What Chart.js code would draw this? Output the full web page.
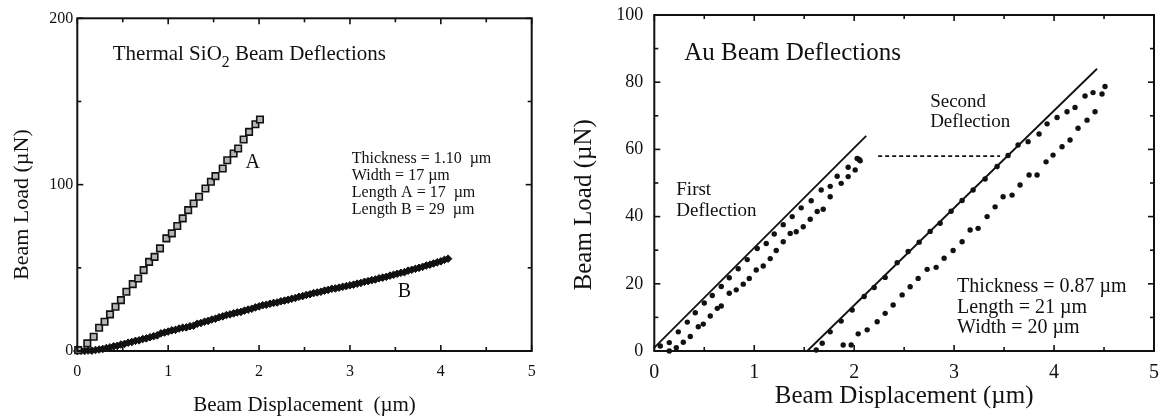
<!DOCTYPE html>
<html><head><meta charset="utf-8">
<script src="https://cdn.jsdelivr.net/npm/chart.js@4.4.1/dist/chart.umd.min.js"></script>
<style>
html,body{margin:0;padding:0;background:#fff;width:1161px;height:419px;overflow:hidden}
canvas{position:absolute;top:0}
#c1{left:0}
#c2{left:560px}
</style></head><body>
<canvas id="c1" width="560" height="419"></canvas>
<canvas id="c2" width="601" height="419"></canvas>
<script>
// ---------- tick labels ----------
const sioXTickLabels = ['0','1','2','3','4','5'];
const sioYTickLabels = ['0','100','200'];
const auXTickLabels = ['0','1','2','3','4','5'];
const auYTickLabels = ['0','20','40','60','80','100'];

// ---------- Thermal SiO2, beam A (open squares) ----------
const beamAX = [0.01,0.11,0.18,0.24,0.30,0.36,0.42,0.48,0.54,0.61,0.67,0.73,0.79,0.85,0.91,0.98,1.04,1.10,1.16,1.22,1.28,1.34,1.41,1.47,1.52,1.60,1.65,1.72,1.77,1.83,1.89,1.96,2.01];
const beamAY = [0.5,4.6,8.6,14.0,17.6,22.0,26.6,30.6,35.6,40.2,43.6,48.6,53.6,56.6,61.7,67.7,70.7,75.1,79.7,84.7,88.7,92.7,97.7,101.7,105.1,109.7,114.7,118.7,121.7,127.1,131.7,136.3,139.2];

// ---------- Thermal SiO2, beam B (filled diamonds) ----------
const beamBX = [0.00,0.04,0.08,0.12,0.16,0.20,0.24,0.28,0.32,0.36,0.40,0.44,0.48,0.52,0.56,0.60,0.64,0.68,0.72,0.76,0.80,0.84,0.88,0.92,0.96,1.00,1.04,1.08,1.12,1.16,1.20,1.24,1.28,1.32,1.36,1.40,1.44,1.48,1.52,1.56,1.60,1.64,1.68,1.72,1.76,1.80,1.84,1.88,1.92,1.96,2.00,2.04,2.08,2.12,2.16,2.20,2.24,2.28,2.32,2.36,2.40,2.44,2.48,2.52,2.56,2.60,2.64,2.68,2.72,2.76,2.80,2.84,2.88,2.92,2.96,3.00,3.04,3.08,3.12,3.16,3.20,3.24,3.28,3.32,3.36,3.40,3.44,3.48,3.52,3.56,3.60,3.64,3.68,3.72,3.76,3.80,3.84,3.88,3.92,3.96,4.00,4.04,4.08];
const beamBY = [0.0,0.2,0.0,0.3,0.2,0.6,0.9,1.2,1.8,2.2,2.8,3.1,3.9,4.3,5.0,5.4,6.1,6.4,7.2,7.6,8.3,8.9,9.4,10.6,11.1,11.7,12.4,12.7,13.5,14.0,14.2,14.9,15.2,16.4,16.8,17.6,18.1,18.9,19.4,20.3,20.8,21.6,22.0,22.6,23.2,23.5,24.3,24.9,25.4,26.2,26.8,27.5,27.8,28.4,28.9,29.2,29.9,30.3,30.8,31.4,31.9,32.6,33.0,33.7,34.1,34.8,35.2,35.6,36.3,36.7,37.4,37.6,38.1,38.6,39.0,39.5,39.9,40.5,40.9,41.6,42.0,42.6,43.0,43.7,44.1,44.6,45.3,45.8,46.4,47.0,47.4,48.3,48.8,49.4,50.0,50.6,51.4,51.9,52.6,53.3,53.9,54.8,55.5];

// ---------- Au, first deflection ----------
const auFirstFitX = [0, 2.12];
const auFirstFitY = [1, 64];
const auFirstUpX = [0.06,0.15,0.24,0.33,0.41,0.50,0.58,0.67,0.75,0.84,0.93,1.03,1.12,1.20,1.29,1.38,1.47,1.57,1.67,1.76,1.83,1.94,2.03,2.06];
const auFirstUpY = [1.5,2.5,5.7,8.6,11.4,14.3,16.5,19.2,21.8,24.5,27.2,30.5,32.0,34.8,37.6,40.0,42.6,44.7,47.9,49.0,52.0,54.7,57.3,56.6];
const auFirstLowX = [0.15,0.22,0.29,0.36,0.44,0.49,0.56,0.63,0.67,0.75,0.82,0.89,0.95,1.02,1.09,1.16,1.22,1.29,1.36,1.42,1.49,1.56,1.63,1.69,1.76,1.87,1.94,2.01,2.05];
const auFirstLowY = [0.0,1.0,2.6,4.3,7.2,8.0,10.4,12.7,13.4,17.2,18.2,19.9,21.6,24.1,25.3,27.5,29.9,32.5,35.0,35.5,37.0,39.2,41.5,42.2,45.9,49.9,51.9,53.9,57.0];

// ---------- Au, second deflection ----------
const auSecondFitX = [1.53, 4.43];
const auSecondFitY = [0, 84];
const auLinkX = [2.24, 3.46];
const auLinkY = [58, 58];
const auSecondUpX = [1.62,1.68,1.76,1.87,1.98,2.10,2.20,2.31,2.43,2.54,2.65,2.76,2.86,2.97,3.08,3.19,3.31,3.43,3.54,3.64,3.74,3.85,3.93,4.03,4.13,4.21,4.31,4.39,4.48,4.51];
const auSecondUpY = [0.3,2.3,5.7,8.9,12.2,16.2,18.9,21.9,26.3,29.6,32.4,35.6,38.0,41.6,44.8,47.9,51.2,54.9,58.2,61.3,62.3,64.6,67.6,69.5,71.2,72.5,75.9,76.9,76.5,78.7];
const auSecondLowX = [1.80,1.89,1.97,2.04,2.13,2.23,2.31,2.39,2.48,2.56,2.64,2.73,2.82,2.90,2.99,3.08,3.16,3.24,3.33,3.41,3.49,3.58,3.66,3.75,3.83,3.92,3.99,4.08,4.16,4.24,4.33,4.41];
const auSecondLowY = [-1.3,1.8,1.8,5.1,6.3,8.7,11.2,13.7,16.7,19.1,21.6,24.3,24.9,27.6,29.9,32.5,36.0,36.5,40.0,42.9,45.9,46.4,49.4,52.4,52.4,56.3,58.3,60.8,62.8,66.3,68.7,71.2];

// ---------- helpers ----------
const pts = (xs, ys) => xs.map((x, i) => ({x, y: ys[i]}));
const SERIF = '"Liberation Serif", "DejaVu Serif", serif';
const INK = '#111111';

const framePlugin = {
  id: 'frame',
  afterDatasetsDraw(chart, args, o) {
    const {ctx, chartArea: a, scales: {x, y}} = chart;
    ctx.save();
    ctx.strokeStyle = INK;
    ctx.lineWidth = 2;
    ctx.strokeRect(a.left, a.top, a.right - a.left, a.bottom - a.top);
    ctx.lineWidth = 1.6;
    const seg = (x1, y1, x2, y2) => { ctx.beginPath(); ctx.moveTo(x1, y1); ctx.lineTo(x2, y2); ctx.stroke(); };
    const xs = x.options.ticks.stepSize, ys = y.options.ticks.stepSize;
    for (let i = 0; x.min + i * o.xMinor <= x.max + 1e-9; i++) {
      const v = x.min + i * o.xMinor;
      const major = Math.abs(v / xs - Math.round(v / xs)) < 1e-6;
      const L = major ? o.major : o.minor;
      const p = x.getPixelForValue(v);
      seg(p, a.bottom, p, a.bottom - L);
      seg(p, a.top, p, a.top + L);
    }
    for (let i = 0; y.min + i * o.yMinor <= y.max + 1e-9; i++) {
      const v = y.min + i * o.yMinor;
      const major = Math.abs(v / ys - Math.round(v / ys)) < 1e-6;
      const L = major ? o.major : o.minor;
      const p = y.getPixelForValue(v);
      seg(a.left, p, a.left + L, p);
      seg(a.right, p, a.right - L, p);
    }
    ctx.restore();
  }
};

const notesPlugin = {
  id: 'notes',
  afterDatasetsDraw(chart, args, o) {
    const {ctx, chartArea, scales: {x, y}} = chart;
    (o.items || []).forEach(n => {
      ctx.save();
      ctx.fillStyle = INK;
      const py = y.getPixelForValue(n.y);
      if (n.rot) {
        const px = chartArea.left + n.dx;
        ctx.translate(px, py);
        ctx.rotate(-Math.PI / 2);
        ctx.font = n.size + 'px ' + SERIF;
        ctx.textAlign = 'center';
        ctx.textBaseline = 'middle';
        ctx.fillText(n.text, 0, 0);
        ctx.restore();
        return;
      }
      const px = x.getPixelForValue(n.x);
      ctx.textAlign = n.align || 'left';
      ctx.textBaseline = n.baseline || 'alphabetic';
      if (n.parts) {
        let cx = px;
        n.parts.forEach(p => {
          const size = p.sub ? n.size * 0.75 : n.size;
          ctx.font = size + 'px ' + SERIF;
          ctx.textAlign = 'left';
          ctx.fillText(p.t, cx, py + (p.sub ? n.size * 0.3 : 0));
          cx += ctx.measureText(p.t).width;
        });
      } else {
        ctx.font = n.size + 'px ' + SERIF;
        ctx.fillText(n.text, px, py);
      }
      ctx.restore();
    });
  }
};

function fixBox(w, h) {
  return (s) => {
    if (w != null) s.width = w;
    if (h != null) s.height = h;
    s.paddingLeft = 0; s.paddingRight = 0; s.paddingTop = 0; s.paddingBottom = 0;
  };
}

Chart.defaults.font.family = SERIF;
Chart.defaults.color = INK;

// ---------- left chart ----------
new Chart(document.getElementById('c1'), {
  type: 'scatter',
  data: {
    datasets: [
      {data: pts(beamAX, beamAY), pointStyle: 'rect', pointRadius: 4.6, borderColor: INK, backgroundColor: '#b5b5b5', borderWidth: 1.6, clip: false},
      {data: pts(beamBX, beamBY), pointStyle: 'rectRot', pointRadius: 3.8, borderColor: INK, backgroundColor: INK, borderWidth: 1, clip: false}
    ]
  },
  options: {
    responsive: false, animation: false, events: [],
    layout: {padding: {left: 0, right: 28.3, top: 18.3, bottom: 0}},
    plugins: {
      legend: {display: false}, tooltip: {enabled: false},
      frame: {xMinor: 0.5, yMinor: 50, major: 6, minor: 4},
      notes: {items: [
        {text: 'Beam Load (\u00b5N)', rot: true, dx: -55.3, y: 88, size: 22},
        {parts: [{t: 'Thermal SiO'}, {t: '2', sub: true}, {t: ' Beam Deflections'}], x: 0.39, y: 174.8, size: 21},
        {text: 'A', x: 1.93, y: 113, size: 20, align: 'center', baseline: 'middle'},
        {text: 'B', x: 3.60, y: 35.4, size: 20, align: 'center', baseline: 'middle'},
        {text: 'Thickness = 1.10  \u00b5m', x: 3.02, y: 112.9, size: 16},
        {text: 'Width = 17 \u00b5m', x: 3.02, y: 102.7, size: 16},
        {text: 'Length A = 17  \u00b5m', x: 3.02, y: 92.5, size: 16},
        {text: 'Length B = 29  \u00b5m', x: 3.02, y: 82.3, size: 16}
      ]}
    },
    scales: {
      x: {
        type: 'linear', min: 0, max: 5,
        grid: {display: false, drawTicks: false}, border: {display: false},
        ticks: {stepSize: 1, padding: 11, font: {size: 16}, maxRotation: 0,
                callback: (v, i) => sioXTickLabels[i]},
        title: {display: true, text: 'Beam Displacement  (\u00b5m)', font: {size: 21}, padding: {top: 0, bottom: 1}},
        afterFit: fixBox(null, 68)
      },
      y: {
        type: 'linear', min: 0, max: 200,
        grid: {display: false, drawTicks: false}, border: {display: false},
        ticks: {stepSize: 100, padding: 4, font: {size: 16},
                callback: (v, i) => sioYTickLabels[i]},
        title: {display: false},
        afterFit: fixBox(77.3, null)
      }
    }
  },
  plugins: [framePlugin, notesPlugin]
});

// ---------- right chart ----------
const lineDs = (xs, ys, dash) => ({data: pts(xs, ys), showLine: true, pointRadius: 0, borderColor: INK, borderWidth: 1.8, borderDash: dash || [], clip: false});
const dotDs = (xs, ys) => ({data: pts(xs, ys), pointStyle: 'circle', pointRadius: 2.7, borderWidth: 0, backgroundColor: INK, clip: false});

new Chart(document.getElementById('c2'), {
  type: 'scatter',
  data: {
    datasets: [
      lineDs(auFirstFitX, auFirstFitY),
      lineDs(auSecondFitX, auSecondFitY),
      lineDs(auLinkX, auLinkY, [4, 3]),
      dotDs(auFirstUpX, auFirstUpY),
      dotDs(auFirstLowX, auFirstLowY),
      dotDs(auSecondUpX, auSecondUpY),
      dotDs(auSecondLowX, auSecondLowY)
    ]
  },
  options: {
    responsive: false, animation: false, events: [],
    layout: {padding: {left: 0, right: 7, top: 15, bottom: 0}},
    plugins: {
      legend: {display: false}, tooltip: {enabled: false},
      frame: {xMinor: 0.5, yMinor: 10, major: 6, minor: 4},
      notes: {items: [
        {text: 'Beam Load (\u00b5N)', rot: true, dx: -70.3, y: 43.5, size: 25},
        {text: 'Au Beam Deflections', x: 0.30, y: 86.6, size: 25},
        {text: 'First', x: 0.22, y: 46.4, size: 19},
        {text: 'Deflection', x: 0.22, y: 40.2, size: 19},
        {text: 'Second', x: 2.76, y: 72.7, size: 19},
        {text: 'Deflection', x: 2.76, y: 66.6, size: 19},
        {text: 'Thickness = 0.87 \u00b5m', x: 3.03, y: 17.6, size: 20},
        {text: 'Length = 21 \u00b5m', x: 3.03, y: 11.2, size: 20},
        {text: 'Width = 20 \u00b5m', x: 3.03, y: 5.3, size: 20}
      ]}
    },
    scales: {
      x: {
        type: 'linear', min: 0, max: 5,
        grid: {display: false, drawTicks: false}, border: {display: false},
        ticks: {stepSize: 1, padding: 10, font: {size: 20}, maxRotation: 0,
                callback: (v, i) => auXTickLabels[i]},
        title: {display: true, text: 'Beam Displacement (\u00b5m)', font: {size: 25}, padding: {top: 0, bottom: 8}},
        afterFit: fixBox(null, 68)
      },
      y: {
        type: 'linear', min: 0, max: 100,
        grid: {display: false, drawTicks: false}, border: {display: false},
        ticks: {stepSize: 20, padding: 11, font: {size: 18},
                callback: (v, i) => auYTickLabels[i]},
        title: {display: false},
        afterFit: fixBox(94.3, null)
      }
    }
  },
  plugins: [framePlugin, notesPlugin]
});
</script>
</body></html>
